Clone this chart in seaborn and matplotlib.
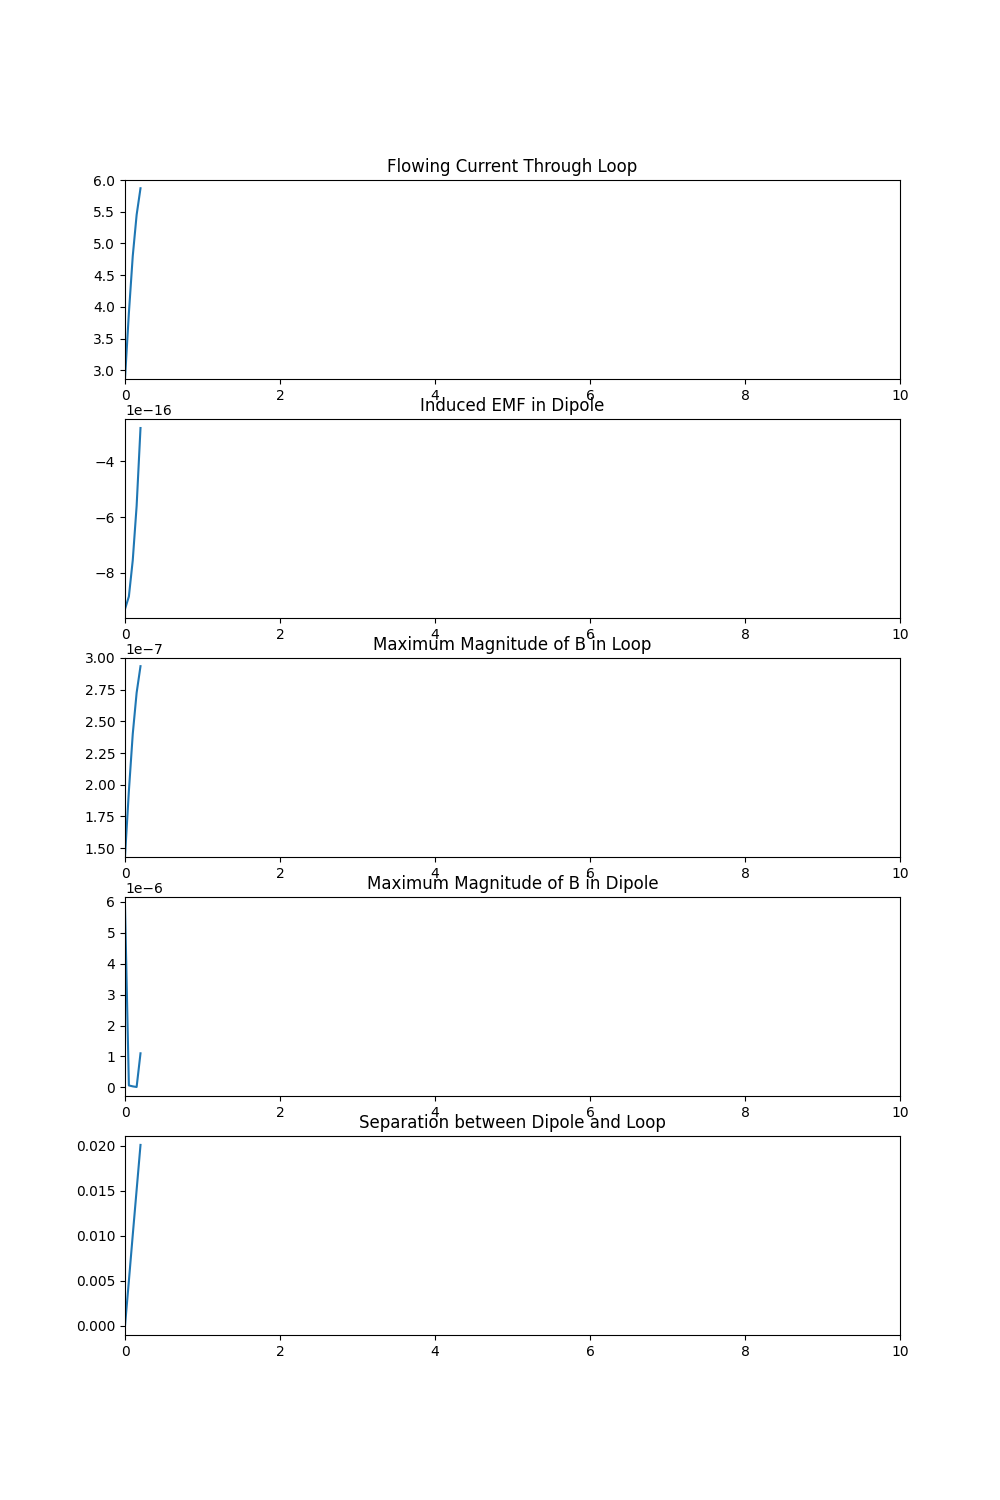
import matplotlib
matplotlib.use("Agg")
import matplotlib.pyplot as plt
import seaborn as sns
import numpy as np

t = [0.0, 0.05, 0.10, 0.15, 0.20]
current = [2.87, 3.90, 4.80, 5.45, 5.87]
emf = [-9.30e-16, -8.85e-16, -7.55e-16, -5.60e-16, -2.80e-16]
b_loop = [1.435e-7, 1.95e-7, 2.40e-7, 2.725e-7, 2.935e-7]
b_dipole = [5.87e-6, 0.06e-6, 0.03e-6, 0.01e-6, 1.10e-6]
separation = [0.0, 0.0050, 0.0101, 0.0151, 0.0201]

titles = ["Flowing Current Through Loop", "Induced EMF in Dipole",
          "Maximum Magnitude of B in Loop", "Maximum Magnitude of B in Dipole",
          "Separation between Dipole and Loop"]
series = [current, emf, b_loop, b_dipole, separation]
ylims = [(2.86, 6.0), None, (1.43e-7, 3.0e-7), None, None]

fig, axes = plt.subplots(5, 1, figsize=(10, 15), dpi=100)
for ax, title, ys, yl in zip(axes, titles, series, ylims):
    sns.lineplot(x=t, y=ys, ax=ax, color="#1f77b4")
    ax.set_xlim(0, 10)
    if yl is not None:
        ax.set_ylim(*yl)
    ax.set_title(title)

fig.savefig("out.png", dpi=100)
